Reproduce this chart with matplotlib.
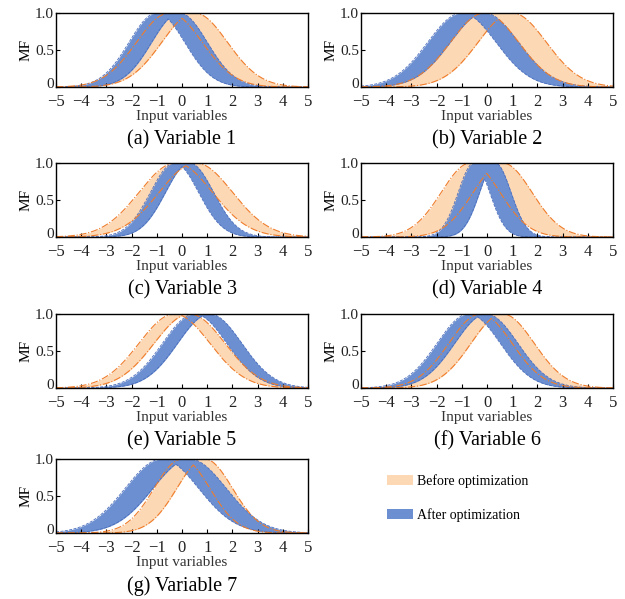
import numpy as np
import matplotlib
matplotlib.use("Agg")
import matplotlib.pyplot as plt
import matplotlib.transforms as mtransforms
from matplotlib.patches import Patch

plt.rcParams['font.family'] = ['Liberation Serif', 'DejaVu Serif']

# interval type-2 gaussian MFs with uncertain mean: (m1, m2, sigma)
captions = ['(a) Variable 1', '(b) Variable 2', '(c) Variable 3', '(d) Variable 4',
            '(e) Variable 5', '(f) Variable 6', '(g) Variable 7']
before_m1 = [-0.5, -0.1, -0.25, -0.65, -0.3, -0.26, 0.0]
before_m2 = [0.5, 1.0, 0.55, 0.62, 0.3, 0.62, 0.9]
before_sd = [1.3, 1.35, 1.45, 1.16, 1.4, 1.25, 1.1]
after_m1 = [-1.0, -1.0, -0.3, -0.52, 0.5, -0.73, -0.8]
after_m2 = [-0.1, -0.1, 0.3, 0.33, 1.1, -0.03, 0.3]
after_sd = [1.1, 1.35, 0.95, 0.62, 1.27, 1.25, 1.45]

xticks = [-5, -4, -3, -2, -1, 0, 1, 2, 3, 4, 5]
yticks = [0, 0.5, 1.0]
ytick_labels = ['0', '0.5', '1.0']

ORANGE_FILL = '#fdd8b5'
ORANGE_LINE = '#ef7d2c'
BLUE_FILL = '#6b8fd0'
BLUE_LINE = '#4a6dbd'


def it2_gauss(x, m1, m2, s):
    g1 = np.exp(-(x - m1) ** 2 / (2 * s ** 2))
    g2 = np.exp(-(x - m2) ** 2 / (2 * s ** 2))
    upper = np.where(x < m1, g1, np.where(x > m2, g2, 1.0))
    lower = np.minimum(g1, g2)
    return lower, upper


W, H = 625, 599
fig = plt.figure(figsize=(W / 100, H / 100), dpi=100)

lefts = [56, 361]
tops = [13, 163, 314, 459]
aw, ah = 252, 74

x = np.linspace(-5, 5, 1001)
for i in range(7):
    r, c = divmod(i, 2)
    ax = fig.add_axes([lefts[c] / W, 1 - (tops[r] + ah) / H, aw / W, ah / H])

    lo, up = it2_gauss(x, before_m1[i], before_m2[i], before_sd[i])
    ax.fill_between(x, lo, up, color=ORANGE_FILL, lw=0)
    lo2, up2 = it2_gauss(x, after_m1[i], after_m2[i], after_sd[i])
    ax.fill_between(x, lo2, up2, color=BLUE_FILL, lw=0)
    ax.plot(x, lo2, color=BLUE_LINE, ls='--', lw=0.6)
    ax.plot(x, up2, color=BLUE_LINE, ls='--', lw=0.6)
    ax.plot(x, lo, color=ORANGE_LINE, ls='-.', lw=0.8)
    ax.plot(x, up, color=ORANGE_LINE, ls='-.', lw=0.8)

    ax.set_xlim(-5, 5)
    ax.set_ylim(0, 1.0)
    ax.set_xticks(xticks)
    ax.set_xticklabels(['\u2212%d' % -t if t < 0 else str(t) for t in xticks])
    ax.set_yticks(yticks)
    ax.set_yticklabels(ytick_labels)
    ax.tick_params(direction='in', length=3, width=0.8, labelsize=12,
                   labelcolor='#222222')
    ax.tick_params(axis='x', pad=5)
    ax.tick_params(axis='y', pad=1.5, labelsize=11)
    # lift the "0" a little so it clears the -5 below it
    lab0 = ax.get_yticklabels()[0]
    lab0.set_transform(lab0.get_transform() +
                       mtransforms.ScaledTranslation(0, 4 / 100, fig.dpi_scale_trans))
    for sp in ax.spines.values():
        sp.set_linewidth(1.0)
    ax.set_xlabel('Input variables', fontsize=11, labelpad=0, color='#333333')
    ax.set_ylabel('MF', fontsize=11, labelpad=2)
    ax.annotate(captions[i], xy=(0.5, 0), xycoords='axes fraction',
                xytext=(0, -38), textcoords='offset points',
                ha='center', va='center', fontsize=14.5)

handles = [Patch(facecolor=ORANGE_FILL, edgecolor='none'),
           Patch(facecolor=BLUE_FILL, edgecolor='none')]
fig.legend(handles, ['Before optimization', 'After optimization'],
           loc='center left', bbox_to_anchor=(374 / W, 1 - 498 / H),
           frameon=False, fontsize=10, handlelength=1.9, handleheight=0.7,
           labelspacing=1.5, handletextpad=0.3)

fig.savefig('out.png', dpi=100)
